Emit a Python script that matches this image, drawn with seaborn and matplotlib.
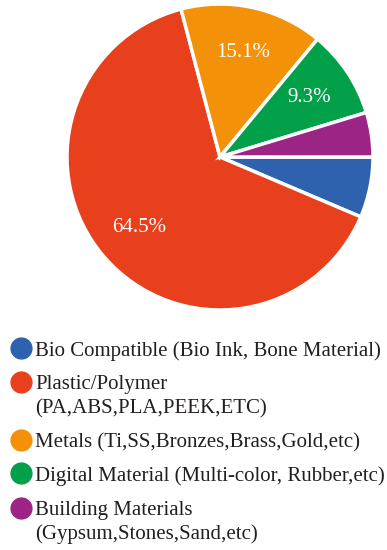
import matplotlib
matplotlib.use("Agg")
import matplotlib.pyplot as plt
import seaborn as sns
from matplotlib.lines import Line2D
from matplotlib import font_manager

sns.set_theme(style="white")
names = sorted({f.name for f in font_manager.fontManager.ttflist})
serif = [n for n in ["Liberation Serif", "DejaVu Serif"] if n in names]
plt.rcParams['font.family'] = serif + ['DejaVu Sans']

categories = [
    "Bio Compatible (Bio Ink, Bone Material)",
    "Plastic/Polymer\n(PA,ABS,PLA,PEEK,ETC)",
    "Metals (Ti,SS,Bronzes,Brass,Gold,etc)",
    "Digital Material (Multi-color, Rubber,etc)",
    "Building Materials\n(Gypsum,Stones,Sand,etc)",
]
values = [6.4, 64.5, 15.1, 9.3, 4.7]
colors = ["#2F62AE", "#E8401C", "#F39209", "#03A04A", "#9B2484"]
show_label = [False, True, True, True, False]

W, H = 387, 550
fig = plt.figure(figsize=(W / 100, H / 100), dpi=100)
cx, cy, r = 220, 157, 153
ax = fig.add_axes([(cx - r) / W, (H - cy - r) / H, 2 * r / W, 2 * r / H])

def fmt(p):
    for v, s in zip(values, show_label):
        if abs(v - p) < 0.05 and s:
            return f"{v:.1f}%"
    return ""

wedges, texts, autotexts = ax.pie(
    values, colors=colors, startangle=0, counterclock=False,
    autopct=fmt, pctdistance=0.7, radius=1,
    wedgeprops=dict(edgecolor="white", linewidth=2.5),
    textprops=dict(color="white", fontsize=15),
)
ax.set_xlim(-1.0, 1.0)
ax.set_ylim(-1.0, 1.0)
ax.set_aspect("equal")
ax.axis("off")

# legend
text_color = "#231F20"
line_ys = [[348.3], [381.7, 406.7], [440], [473.3], [508.3, 532]]
for cat, col, ys in zip(categories, colors, line_ys):
    lines = cat.split("\n")
    fig.add_artist(Line2D([20.5 / W], [1 - ys[0] / H], marker="o", markersize=15,
                          color=col, linestyle="none", transform=fig.transFigure))
    for ln, y in zip(lines, ys):
        fig.text(35 / W, 1 - y / H, ln, fontsize=15, color=text_color,
                 ha="left", va="center_baseline")

fig.savefig("out.png", dpi=100)
